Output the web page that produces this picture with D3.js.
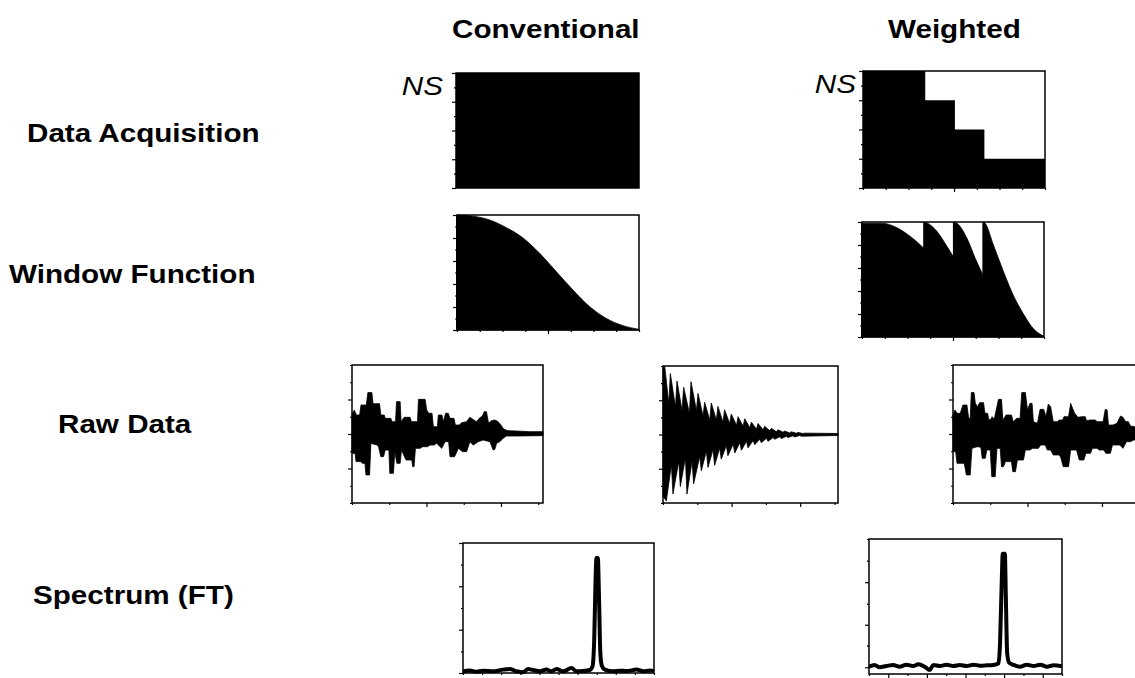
<!DOCTYPE html>
<html>
<head>
<meta charset="utf-8">
<script src="https://cdn.jsdelivr.net/npm/d3@7"></script>
<style>
  body { margin: 0; background: #fff; }
  svg { display: block; }
</style>
</head>
<body>
<svg id="chart" width="1135" height="678"></svg>
<script>
// ---- data ----
const columns = ["Conventional", "Weighted"];
const rowLabels = ["Data Acquisition", "Window Function", "Raw Data", "Spectrum (FT)"];

// number of scans (NS) per time block, t in % of acquisition time
const acqConventional = [{ start: 0, end: 100, ns: 4 }];
const acqWeighted = [
  { start: 0, end: 34.2, ns: 4 },
  { start: 34.2, end: 50.5, ns: 3 },
  { start: 50.5, end: 66.7, ns: 2 },
  { start: 66.7, end: 100, ns: 1 }
];

// window functions [t, weight]
const windowConventional = [
  [0, 1.0], [8.8, 0.99], [17.9, 0.957], [27.1, 0.89], [36.3, 0.8], [45.4, 0.667],
  [54.6, 0.507], [63.7, 0.348], [72.9, 0.203], [82, 0.101], [91.2, 0.038], [100, 0.006]
];
const windowWeighted = [
  [[0, 0.99], [11, 0.99], [19.2, 0.95], [26.5, 0.875], [34.2, 0.77]],
  [[34.2, 1.0], [36, 0.99], [41.1, 0.92], [46.6, 0.79], [50.5, 0.69]],
  [[50.5, 1.0], [52.1, 0.99], [57.6, 0.86], [62.2, 0.685], [66.7, 0.53]],
  [[66.7, 1.0], [67.6, 0.99], [72.2, 0.8], [77.7, 0.57], [83.2, 0.36], [88.7, 0.2], [94.1, 0.073], [100, 0.006]]
];

// raw FIDs: upper and lower envelopes of the oscillation [t, amplitude]
const rawConvUpper = [
  [0, 27.5], [1.2, 34.8], [2.3, 27.5], [4, 27.5], [4.7, 42], [7.5, 42], [8.3, 60], [10.4, 60],
  [11, 44], [14.4, 44], [15.1, 27.5], [16.9, 27.5], [17.4, 22.7], [20.3, 22.7], [21, 17.9],
  [22.8, 17.9], [23.3, 46.9], [25.2, 46.9], [25.7, 17.9], [27.3, 24.2], [30.4, 24.2], [31.1, 17.9],
  [34.3, 17.9], [34.8, 50.2], [38.3, 50.2], [39.1, 34.8], [40.2, 30], [41.9, 30], [42.6, 10.6],
  [44.7, 10.6], [45.2, 27.5], [47.1, 27.5], [47.8, 17.9], [49, 30], [50.4, 30], [51.3, 22.7],
  [53.4, 22.7], [54.1, 13], [56.2, 13], [57.4, 16.4], [60, 17.9], [61.7, 24.2], [63.8, 20.3],
  [65.2, 17.9], [66.6, 22.7], [68.3, 26], [69.2, 32.4], [70.4, 32.4], [71.5, 15.5], [73, 19.3],
  [74.8, 20.3], [76.5, 17.9], [77.9, 13], [79.5, 6.8], [81.7, 4.8], [86, 4.3], [93, 3.4], [100, 3.4]
];
const rawConvLower = [
  [0, -28], [1.6, -28], [2.1, -40], [4.7, -40], [5.4, -42.5], [6.8, -42.5], [7.3, -59.4], [9.2, -59.4],
  [9.9, -13.5], [13, -16], [13.9, -18.4], [15.1, -32.9], [16.5, -32.9], [17.4, -23.2], [19.3, -23.2],
  [19.8, -57], [21.7, -57], [22.4, -25.6], [23.5, -42.5], [25.2, -42.5], [25.9, -23.2], [28.3, -37.7],
  [31.3, -37.7], [31.8, -47.3], [32.5, -47.3], [33.2, -20.8], [35.7, -20.8], [37, -18.4], [39.5, -18.4],
  [40.9, -16], [43, -16], [44.3, -13.5], [47, -20.8], [48.7, -11.1], [50.6, -11.1], [51.3, -32.9],
  [53.7, -32.9], [55.7, -20.8], [57.9, -25.6], [60, -25.6], [61.7, -11.1], [63.5, -16], [66.1, -11.1],
  [68.7, -8.7], [72.2, -11.1], [73.9, -23.2], [74.8, -22.2], [75.7, -13.5], [77.4, -11.1], [79.1, -6.3],
  [80.9, -2.9], [86, -2.9], [100, -2.4]
];
const rawMidUpper = [
  [0, 99], [1, 99.5], [3.3, 45], [4.2, 89], [7.1, 40], [8, 78], [10.9, 35], [11.8, 69], [15.1, 31],
  [16, 77], [19.1, 35], [20, 60], [22.9, 27], [23.8, 47], [26.7, 21], [27.6, 46], [30.5, 21], [31.4, 41],
  [34.3, 18], [35.2, 36], [38.1, 16], [39, 30], [42, 13.5], [42.9, 26], [45.8, 12], [46.7, 23],
  [49.6, 10], [50.5, 18], [53.4, 8], [54.3, 16], [57.2, 7], [58.1, 12], [61, 5.4], [61.9, 9],
  [64.8, 4], [65.7, 7], [68.6, 3.2], [69.5, 5], [72.4, 2.3], [73.3, 4], [76.2, 1.8], [77.1, 3],
  [80, 1.4], [81, 2], [100, 1.5]
];
const rawMidLower = [
  [0, -90], [1.9, -97], [4.8, -44], [5.7, -87], [9, -39], [9.9, -76], [12.8, -34], [13.7, -87],
  [16.6, -39], [17.5, -72], [21, -32], [21.9, -53], [24.8, -24], [25.7, -48], [28.6, -22], [29.5, -45],
  [32.4, -20], [33.3, -36], [36.2, -16], [37.1, -31], [40.1, -14], [41, -27], [43.9, -12], [44.8, -23],
  [47.7, -10], [48.6, -19.5], [51.5, -8.8], [52.4, -15], [55.3, -7], [56.2, -12], [59.1, -5.4], [60, -10],
  [62.9, -4.5], [63.8, -7], [66.7, -3.2], [67.6, -6], [70.5, -2.7], [71.4, -4.5], [74.3, -2], [75.2, -3.5],
  [78.1, -1.6], [79, -2.5], [100, -1.5]
];
const rawWeightedUpper = [
  [0, 27.5], [1, 34.8], [2.1, 30], [3.8, 30], [5.2, 42], [7.3, 42], [8.2, 22.7], [9, 22.7], [9.6, 60],
  [11, 60], [11.7, 44.4], [12.9, 39.6], [13.9, 45.4], [16, 45.4], [16.7, 30], [18.1, 30], [18.8, 20.3],
  [19.8, 21.3], [20.5, 25.1], [21.6, 21.3], [23.8, 50.2], [25.4, 50.2], [26.1, 20.3], [27.8, 27.5],
  [30.6, 27.5], [31.5, 17.9], [33.4, 22.7], [35.1, 22.7], [36, 60], [37.9, 60], [39, 34.8], [40.3, 44.4],
  [41.4, 44.4], [42.1, 17.9], [44.2, 15.5], [45.6, 35.7], [47.5, 35.7], [48.7, 25.1], [49.9, 43.5],
  [51.1, 39.6], [52.5, 17.9], [54.6, 17.9], [55.7, 20.3], [57.4, 20.3], [58.1, 25.1], [60.5, 25.1],
  [61.6, 44.4], [62.6, 37.2], [63.7, 30], [65.4, 24.2], [67.5, 25.1], [69.2, 25.1], [69.9, 19.3],
  [72, 20.3], [74.4, 20.3], [75.5, 17.9], [78.6, 17.9], [79.7, 35.7], [80.7, 34.8], [81.4, 13],
  [83.8, 13], [85.9, 15.5], [87.7, 26], [89, 24.2], [90.4, 17.9], [91.8, 17.9], [92.9, 11.6],
  [95.1, 10.6], [96.9, 10.6], [100, 13]
];
const rawWeightedLower = [
  [0, -25.6], [1.4, -25.6], [2.1, -42.5], [5.9, -42.5], [7, -59.4], [9, -59.4], [9.9, -20.8],
  [11.7, -19.3], [12.9, -18.4], [14.6, -19.3], [15.3, -35.3], [16.9, -35.3], [17.7, -23.2], [19.5, -23.2],
  [20.3, -61.8], [22.1, -61.8], [23, -20.8], [24.7, -20.8], [25.4, -47.3], [26.4, -47.3], [27.5, -40],
  [30.6, -40], [31.3, -54.6], [32.7, -54.6], [33.7, -37.7], [36.9, -37.7], [37.9, -23.2], [40.3, -23.2],
  [41.7, -20.8], [44.7, -20.8], [45.9, -16], [48.3, -16], [49.4, -23.2], [51.1, -23.2], [52.5, -30.4],
  [55.3, -30.4], [56.3, -32.9], [57.7, -47.3], [60.5, -47.3], [61.6, -23.2], [64.7, -23.2], [66.1, -37.7],
  [68.5, -37.7], [69.6, -28], [72, -28], [73, -20.8], [75.5, -20.8], [76.5, -23.2], [79, -23.2],
  [80, -28], [82.4, -28], [83.5, -16], [85.9, -16], [87.3, -16], [89, -20.8], [90.8, -11.1],
  [92.9, -11.1], [94.6, -8.7], [100, -8.7]
];

// spectra [frequency %, intensity %]
const specConventional = [
  [0, 1.3], [3.5, 2], [7, 1], [10.5, 1.8], [15.7, 1.3], [21, 2.6], [24.5, 3.1], [28, 1.3], [31.5, 0.5],
  [34.1, 3.1], [36.7, 2.3], [40.2, 1.3], [43.7, 2.6], [46.3, 1.3], [49, 3.1], [52.4, 1.3], [56.8, 3.8],
  [59.4, 1.3], [62.9, 1.5], [66.4, 2.3], [67.8, 5.1], [68.7, 25.6], [69.4, 71.8], [69.9, 88.5],
  [70.6, 88.5], [71.2, 59], [71.9, 15.4], [72.7, 5.6], [74.3, 2.6], [78.7, 1.3], [82.2, 1.8],
  [85.7, 1.5], [90.9, 2.6], [94.4, 1.3], [97.9, 2], [100, 1.3]
];
const specWeighted = [
  [0, 5.4], [2.9, 6.7], [5.5, 5], [9, 5.9], [12.5, 6.7], [15.9, 5.4], [19.4, 6.9], [22.9, 5.9],
  [25.5, 7.2], [28.9, 5.4], [31.5, 3], [33.3, 6.7], [36.7, 5.9], [40.2, 6.9], [43.7, 5.9], [47.1, 6.7],
  [50.6, 5.9], [54.1, 6.9], [57.5, 6.2], [61, 6.4], [64.5, 6.7], [67.1, 7.9], [67.9, 22.8], [68.8, 69.8],
  [69.3, 89], [70.4, 89], [70.9, 57.4], [71.6, 15.3], [72.6, 8.4], [74.9, 6.7], [78.3, 5.4], [81.8, 6.9],
  [85.3, 5.9], [88.7, 6.9], [92.2, 5.4], [95.7, 6.4], [100, 5.7]
];

// ---- drawing ----
const svg = d3.select("#chart");
const FONT = "'Liberation Sans', Arial, Helvetica, sans-serif";

function makePanel(box, xDomain, yDomain) {
  const g = svg.append("g").attr("transform", `translate(${box.x},${box.y})`);
  const x = d3.scaleLinear().domain(xDomain).range([0, box.w]);
  const y = d3.scaleLinear().domain(yDomain).range([box.h, 0]);
  return { g, x, y, box };
}

function addTicks(p, t) {
  const axis = (gen, vals, size, tr) => {
    if (!vals) return;
    p.g.append("g")
      .attr("transform", tr || null)
      .call(gen.tickValues(vals).tickSize(size).tickFormat(""))
      .call(a => a.select(".domain").remove())
      .call(a => a.selectAll("line").attr("stroke", "#000").attr("stroke-width", 1.2));
  };
  axis(d3.axisLeft(p.y), t.yMajor, 4);
  axis(d3.axisLeft(p.y), t.yMinor, 2);
  axis(d3.axisBottom(p.x), t.xMajor, 4, `translate(0,${p.box.h})`);
  axis(d3.axisBottom(p.x), t.xMinor, 2, `translate(0,${p.box.h})`);
  p.g.append("rect")
    .attr("width", p.box.w).attr("height", p.box.h)
    .attr("fill", "none").attr("stroke", "#000").attr("stroke-width", 1.5);
}

// NS blocks as one stepped area, so no seams between blocks
function drawBlocks(p, blocks) {
  const pts = blocks.map(d => [d.start, d.ns]);
  const last = blocks[blocks.length - 1];
  pts.push([last.end, last.ns]);
  const area = d3.area().x(d => p.x(d[0])).y0(p.y(0)).y1(d => p.y(d[1])).curve(d3.curveStepAfter);
  p.g.append("path").attr("d", area(pts)).attr("fill", "#000");
}

function drawWindow(p, pts) {
  const area = d3.area().x(d => p.x(d[0])).y0(p.y(0)).y1(d => p.y(d[1])).curve(d3.curveMonotoneX);
  p.g.append("path").attr("d", area(pts)).attr("fill", "#000")
    .attr("stroke", "#000").attr("stroke-width", 0.8);
  // solid edge where a segment starts, hides the seam with the previous one
  p.g.append("line")
    .attr("x1", p.x(pts[0][0])).attr("x2", p.x(pts[0][0]))
    .attr("y1", p.y(0)).attr("y2", p.y(pts[0][1]))
    .attr("stroke", "#000").attr("stroke-width", 2);
}

function drawFid(p, upper, lower) {
  const area = d3.area().x(d => p.x(d[0])).y0(p.y(0)).y1(d => p.y(d[1]));
  [upper, lower].forEach(pts => {
    p.g.append("path").attr("d", area(pts)).attr("fill", "#000")
      .attr("stroke", "#000").attr("stroke-width", 0.8).attr("stroke-linejoin", "miter");
  });
}

function drawSpectrum(p, pts) {
  const line = d3.line().x(d => p.x(d[0])).y(d => p.y(d[1])).curve(d3.curveMonotoneX);
  p.g.append("path").attr("d", line(pts)).attr("fill", "none")
    .attr("stroke", "#000").attr("stroke-width", 4).attr("stroke-linejoin", "round");
}

const eighths = d3.range(0, 100.1, 12.5);
const fidTicks = { xMajor: [39, 78], xMinor: [0, 19.5, 58.5, 97.5], yMajor: [-50, 0, 50], yMinor: [-100, -75, -25, 25, 75, 100] };

// Data acquisition
const p1 = makePanel({ x: 456, y: 73, w: 183, h: 115 }, [0, 100], [0, 4]);
drawBlocks(p1, acqConventional);
addTicks(p1, { yMajor: [0, 1, 2, 3, 4], yMinor: [0.5, 1.5, 2.5, 3.5] });

const p2 = makePanel({ x: 863, y: 71, w: 182, h: 117 }, [0, 100], [0, 4]);
drawBlocks(p2, acqWeighted);
addTicks(p2, { yMajor: [0, 1, 2, 3, 4], yMinor: [0.5, 1.5, 2.5, 3.5], xMajor: [50], xMinor: eighths });

// Window functions
const p3 = makePanel({ x: 457, y: 215, w: 182, h: 115 }, [0, 100], [0, 1]);
drawWindow(p3, windowConventional);
addTicks(p3, { yMajor: [0, 0.2, 0.4, 0.6, 0.8, 1], yMinor: [0.1, 0.3, 0.5, 0.7, 0.9], xMajor: [50], xMinor: eighths });

const p4 = makePanel({ x: 862, y: 222, w: 182, h: 115 }, [0, 100], [0, 1]);
windowWeighted.forEach(seg => drawWindow(p4, seg));
addTicks(p4, { yMajor: [0, 0.2, 0.4, 0.6, 0.8, 1], yMinor: [0.1, 0.3, 0.5, 0.7, 0.9], xMajor: [50], xMinor: eighths });

// Raw data
const p5 = makePanel({ x: 352, y: 365, w: 191, h: 138 }, [0, 100], [-100, 100]);
drawFid(p5, rawConvUpper, rawConvLower);
addTicks(p5, fidTicks);

const p6 = makePanel({ x: 663, y: 366, w: 175, h: 137 }, [0, 100], [-100, 100]);
drawFid(p6, rawMidUpper, rawMidLower);
addTicks(p6, { xMajor: [39.2, 78.4], xMinor: [0, 19.6, 58.8, 98], yMajor: [-50, 0, 50], yMinor: [-100, -75, -25, 25, 75, 100] });

const p7 = makePanel({ x: 953, y: 365, w: 191, h: 138 }, [0, 100], [-100, 100]);
drawFid(p7, rawWeightedUpper, rawWeightedLower);
addTicks(p7, fidTicks);

// Spectra
const p8 = makePanel({ x: 463, y: 543, w: 191, h: 130 }, [0, 100], [0, 100]);
drawSpectrum(p8, specConventional);
addTicks(p8, { yMajor: [0, 33.3, 66.7, 100], yMinor: [16.7, 50, 83.3], xMinor: d3.range(0, 100.1, 10) });

const p9 = makePanel({ x: 869, y: 539, w: 193, h: 135 }, [0, 100], [0, 100]);
drawSpectrum(p9, specWeighted);
addTicks(p9, { yMajor: [5, 36.5, 68], yMinor: [21, 52, 84, 100], xMajor: [10, 30, 50, 70, 90], xMinor: [0, 20, 40, 60, 80, 100] });

// ---- text ----
function label(txt, x, y, opts) {
  svg.append("text")
    .attr("transform", `translate(${x},${y}) scale(1.14,1)`)
    .attr("text-anchor", opts.anchor || "start")
    .attr("font-family", FONT)
    .attr("font-size", opts.size || 26)
    .attr("font-weight", opts.weight || "bold")
    .attr("font-style", opts.style || "normal")
    .attr("fill", "#000")
    .text(txt);
}

const columnX = [452, 888];
columns.forEach((c, i) => label(c, columnX[i], 38, {}));

const rowPos = [[27, 142], [9, 283], [58, 433], [33, 604]];
rowLabels.forEach((r, i) => label(r, rowPos[i][0], rowPos[i][1], {}));

label("NS", 443, 95, { anchor: "end", weight: "normal", style: "italic" });
label("NS", 856, 93, { anchor: "end", weight: "normal", style: "italic" });
</script>
</body>
</html>
